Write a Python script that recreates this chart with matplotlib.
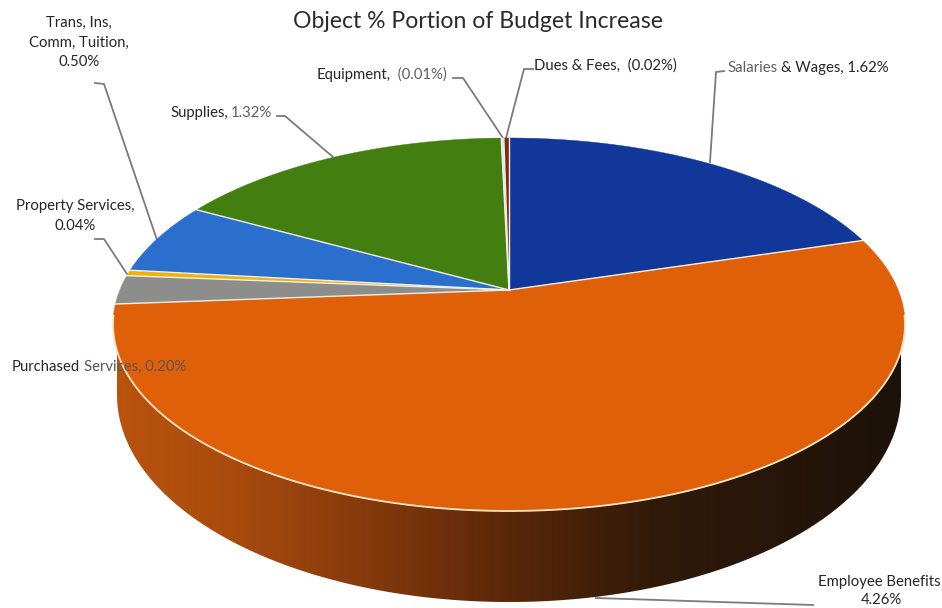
import numpy as np
import matplotlib
matplotlib.use("Agg")
import matplotlib.pyplot as plt
from matplotlib.colors import LinearSegmentedColormap
from matplotlib.patches import Polygon

plt.rcParams["font.family"] = ["Lato", "DejaVu Sans"]

categories = ["Salaries & Wages", "Employee Benefits", "Purchased Services", "Property Services",
              "Trans, Ins, Comm, Tuition", "Supplies", "Equipment", "Dues & Fees"]
values = [1.62, 4.26, 0.20, 0.04, 0.50, 1.32, -0.01, -0.02]
slice_colors = ["#12379a", "#e0600a", "#8d8d8b", "#efb20c", "#2a6fcd", "#427f10", "#dfe9ee", "#7c2a12"]

title = "Object % Portion of Budget Increase"

# top face ellipse, and how far the perspective pushes the pie centre back
CX, CY, RX, RY = 509, 324.5, 396, 186.5
TILT = 0.185
# bottom edge of the side wall
BX, BY, BRY = 392, 395, 207

side_stops = [(0.0, "#b9530d"), (0.15, "#a84b0e"), (0.33, "#83380c"), (0.5, "#5a2709"),
              (0.68, "#321a0a"), (1.0, "#1c1208")]
edge_light = "#f0f0e4"
leader_color = "#7b7b7b"
text_color = "#262626"
faded_color = "#5f5f5f"

LABEL_SIZE = 10.7


def rim_point(deg):
    # angle is clockwise from twelve o'clock on the flat disc, projected with perspective
    t = np.radians(deg)
    u, v = np.sin(t), np.cos(t)
    d = 1 + TILT * v
    x = u * np.sqrt(1 - TILT ** 2) / d
    y = (v + TILT) / d
    return CX + RX * x, CY - RY * y


def pct(v):
    return f"({abs(v):.2f}%)" if v < 0 else f"{v:.2f}%"


def draw_pieces(ax, x, y, pieces):
    # one line of text in several colours, laid out left to right
    r = ax.figure.canvas.get_renderer()
    inv = ax.transData.inverted()
    for s, col in pieces:
        t = ax.text(x, y, s, color=col, fontsize=LABEL_SIZE, ha="left", va="center", zorder=6)
        bb = t.get_window_extent(r)
        x = inv.transform((bb.x1, bb.y0))[0] + 3.5


fig = plt.figure(figsize=(9.42, 6.08), dpi=100)
ax = fig.add_axes([0, 0, 1, 1])
ax.set_xlim(0, 942)
ax.set_ylim(608, 0)
ax.axis("off")

# side wall, shaded from left to right
th = np.linspace(0, np.pi, 300)
wall_x = np.r_[CX + BX, CX + BX * np.cos(th), CX - BX]
wall_y = np.r_[CY, BY + BRY * np.sin(th), CY]
wall = Polygon(np.c_[wall_x, wall_y], closed=True, fc="none", ec="none", transform=ax.transData)
ax.add_patch(wall)
cmap = LinearSegmentedColormap.from_list("side", side_stops)
grad = ax.imshow(np.linspace(0, 1, 512)[None, :], cmap=cmap, aspect="auto",
                 extent=[CX - BX, CX + BX, 608, 0], zorder=1)
grad.set_clip_path(wall)
ax.set_xlim(0, 942)
ax.set_ylim(608, 0)

# top face, one polygon per slice sized from its value
sizes = np.abs(values)
angles = np.r_[0, np.cumsum(sizes)] / sizes.sum() * 360
apex = CX, CY - RY * TILT
for i, cat in enumerate(categories):
    a = np.linspace(angles[i], angles[i + 1], max(3, int(angles[i + 1] - angles[i]) * 3))
    xs, ys = rim_point(a)
    ax.add_patch(Polygon(np.c_[np.r_[apex[0], xs], np.r_[apex[1], ys]], closed=True,
                         fc=slice_colors[i], ec=slice_colors[i], lw=0.3, zorder=2, label=cat))

# light separators between slices
for ang in angles[:-1]:
    x, y = rim_point(ang)
    ax.plot([apex[0], x], [apex[1], y], color=edge_light, lw=1.0, zorder=3)

# light rim where the top face meets the wall
xs, ys = rim_point(np.linspace(98, 262, 300))
ax.plot(xs, ys, color="#fbe6c8", lw=1.3, zorder=3)

# leader lines
leaders = [
    ([95, 104, 157], [83, 84, 240]),
    ([277, 285, 333], [116, 116, 157]),
    ([453, 463, 503], [78, 78, 138]),
    ([533, 524, 506], [69, 69, 138]),
    ([724, 716, 710], [71, 72, 162]),
    ([95, 104, 127], [239, 239, 274]),
    ([596, 813], [598, 605]),
]
for lx, ly in leaders:
    ax.plot(lx, ly, color=leader_color, lw=1.3, zorder=1.5)

ax.text(478, 21, title, fontsize=16.6, color="#2b2b2b", ha="center", va="center", zorder=6)

# data labels
for txt, yy in zip(["Trans, Ins,", "Comm, Tuition,", pct(values[4])], [23, 43, 62]):
    ax.text(79, yy, txt, fontsize=LABEL_SIZE, color=text_color, ha="center", va="center", zorder=6)
for txt, yy in zip(["Property Services,", pct(values[3])], [206, 226]):
    ax.text(75, yy, txt, fontsize=LABEL_SIZE, color=text_color, ha="center", va="center", zorder=6)

draw_pieces(ax, 170, 113, [("Supplies,", text_color), (pct(values[5]), faded_color)])
draw_pieces(ax, 317, 75, [("Equipment,", text_color), (" " + pct(values[6]), faded_color)])
draw_pieces(ax, 534, 66, [("Dues & Fees,", text_color), (" " + pct(values[7]), text_color)])
draw_pieces(ax, 727, 68, [("Salaries", faded_color), ("& Wages, " + pct(values[0]), text_color)])
draw_pieces(ax, 12, 367, [("Purchased", text_color), ("Services, " + pct(values[2]), "#5c5650")])

ax.text(818, 582, "Employee Benefits", fontsize=LABEL_SIZE, color=text_color, ha="left", va="center", zorder=6)
ax.text(881, 600, pct(values[1]), fontsize=LABEL_SIZE, color=text_color, ha="center", va="center", zorder=6)

fig.savefig("out.png", dpi=100, facecolor="white")
plt.close(fig)
